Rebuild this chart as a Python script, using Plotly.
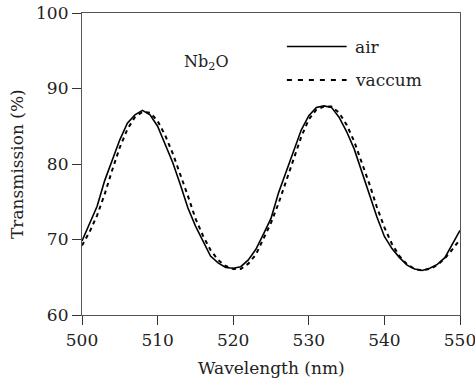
import plotly.graph_objects as go

wavelength = list(range(500, 551))
air = [69.8, 72.2, 74.4, 77.8, 80.6, 83.2, 85.4, 86.5, 87.1, 86.5,
       85.0, 82.6, 80.2, 77.3, 74.2, 71.8, 69.7, 67.8, 66.9, 66.3,
       66.2, 66.4, 67.3, 68.7, 70.7, 72.8, 76.2, 79.0, 81.6, 84.5,
       86.4, 87.5, 87.7, 87.5, 86.2, 84.3, 82.0, 79.0, 75.8, 73.0,
       70.4, 68.8, 67.6, 66.6, 66.1, 65.9, 66.2, 66.7, 67.6, 69.5,
       71.2]
vaccum = [69.2, 71.0, 73.2, 76.0, 79.2, 82.2, 84.6, 86.2, 86.9, 86.8,
          85.7, 83.8, 81.4, 78.7, 75.8, 72.8, 70.5, 68.6, 67.3, 66.5,
          66.1, 66.1, 66.8, 68.0, 70.0, 72.2, 74.8, 77.8, 80.8, 83.6,
          85.9, 87.2, 87.6, 87.6, 86.8, 85.2, 83.0, 80.3, 77.4, 74.3,
          71.6, 69.4, 67.8, 66.7, 66.1, 65.9, 66.1, 66.6, 67.5, 68.7,
          70.0]
x_ticks = [500, 510, 520, 530, 540, 550]
y_ticks = [60, 70, 80, 90, 100]

FONT = "DejaVu Serif, Liberation Serif, serif"
TXT = "#222"

fig = go.Figure()
fig.add_trace(go.Scatter(x=wavelength, y=air, mode="lines", name="air",
                         line=dict(color="black", width=1.6)))
fig.add_trace(go.Scatter(x=wavelength, y=vaccum, mode="lines", name="vaccum",
                         line=dict(color="black", width=2, dash="4px,4px")))

axis_common = dict(showgrid=False, zeroline=False, showline=True, linecolor="#555",
                   linewidth=1.2, mirror=True, ticks="outside", ticklen=9,
                   tickcolor="#333", tickwidth=1, automargin=False,
                   ticklabeloverflow="allow",
                   tickfont=dict(family=FONT, size=17, color=TXT))
fig.update_xaxes(range=[500, 550], tickvals=x_ticks, **axis_common)
fig.update_yaxes(range=[60, 100], tickvals=y_ticks, **axis_common)

# axis titles
fig.add_annotation(xref="paper", yref="paper", x=0.5, y=-0.175, text="Wavelength (nm)",
                   showarrow=False, xanchor="center", yanchor="middle",
                   font=dict(family=FONT, size=17, color=TXT))
fig.add_annotation(xref="paper", yref="paper", x=-0.172, y=0.5, text="Transmission (%)",
                   showarrow=False, xanchor="center", yanchor="middle", textangle=-90,
                   font=dict(family=FONT, size=17, color=TXT))

# legend drawn in paper coords
fig.add_shape(type="line", xref="paper", yref="paper", x0=0.542, x1=0.700, y0=0.889, y1=0.889,
              line=dict(color="black", width=1.6))
fig.add_shape(type="line", xref="paper", yref="paper", x0=0.542, x1=0.700, y0=0.778, y1=0.778,
              line=dict(color="black", width=2, dash="5px,6px"))
fig.add_annotation(xref="paper", yref="paper", x=0.717, y=0.889, text="air", showarrow=False,
                   xanchor="left", yanchor="middle", font=dict(family=FONT, size=17, color=TXT))
fig.add_annotation(xref="paper", yref="paper", x=0.717, y=0.778, text="vaccum", showarrow=False,
                   xanchor="left", yanchor="middle", font=dict(family=FONT, size=17, color=TXT))
fig.add_annotation(xref="paper", yref="paper", x=0.33, y=0.835, text="Nb<sub>2</sub>O", showarrow=False,
                   xanchor="center", yanchor="middle", font=dict(family=FONT, size=16, color=TXT))

fig.update_layout(width=475, height=378, showlegend=False,
                  margin=dict(l=82, r=15, t=13, b=63),
                  plot_bgcolor="white", paper_bgcolor="white")
fig.write_html("out.html")
